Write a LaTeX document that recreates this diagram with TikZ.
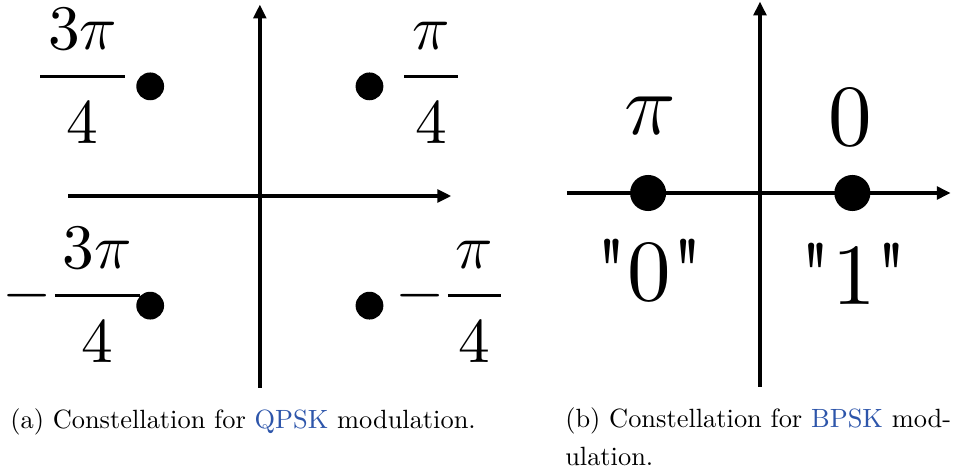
\documentclass[tikz,border=0pt]{standalone}
\usepackage{fix-cm}
\usepackage{fontspec}
\usetikzlibrary{positioning, arrows.meta}
\newfontfamily\figfont{lmroman10-regular}[Extension=.otf]
\definecolor{linkblue}{RGB}{45, 85, 170}
\newcommand{\phasefrac}[1]{$\displaystyle{\hbox{\kern3pt#1\kern3pt}\above1.1pt\hbox{\rule{0pt}{0.9em}\figfont 4}}$}
\newcommand{\negphasefrac}[1]{$\displaystyle-{\hbox{\kern3pt#1\kern3pt}\above1.1pt\hbox{\rule{0pt}{0.9em}\figfont 4}}$}

\begin{document}
\begin{tikzpicture}[
    axis/.style={line width=1.5pt, -{Triangle[length=5.3pt, width=4.8pt]}},
    qdot/.style={circle, fill=black, inner sep=0pt, minimum size=0.37cm},
    bdot/.style={circle, fill=black, inner sep=0pt, minimum size=0.48cm},
    qlabel/.style={inner sep=0pt, anchor=base, font=\figfont\fontsize{24}{28}\selectfont},
    blabel/.style={inner sep=0pt, font=\figfont\fontsize{33}{40}\selectfont},
    caption/.style={inner sep=0pt, anchor=base west, align=left, font=\fontsize{10}{14.4}\selectfont}
  ]
    \def\ax{2.55}
    \useasboundingbox (-3.46,-3.71) rectangle (9.23,2.61);

    % (a) QPSK
    \draw[axis] (-\ax,0) -- (\ax,0);
    \draw[axis] (0,-\ax) -- (0,\ax);

    \node[qdot] (q1) at ( 1.46, 1.46) {};
    \node[qdot] (q2) at (-1.46, 1.46) {};
    \node[qdot] (q3) at (-1.46,-1.46) {};
    \node[qdot] (q4) at ( 1.46,-1.46) {};

    \node[qlabel] (l1) at ( 2.28, 1.38) {\phasefrac{$\pi$}};
    \node[qlabel] (l2) at (-2.36, 1.38) {\phasefrac{\figfont 3$\pi$}};
    \node[qlabel] (l3) at (-2.49,-1.54) {\negphasefrac{\figfont 3$\pi$}};
    \node[qlabel] (l4) at ( 2.53,-1.54) {\negphasefrac{$\pi$}};

    % (b) BPSK
    \draw[axis] (4.09,0.04) -- (9.2,0.04);
    \draw[axis] (6.66,-2.54) -- (6.66,2.59);

    \node[bdot] (b0) at (5.17,0.04) {};
    \node[bdot] (b1) at (7.89,0.04) {};

    \node[blabel] (p0) at (5.2,1.07) {$\pi$};
    \node[blabel] (p1) at (7.86,1.05) {0};
    \node[blabel] (s0) at (5.19,-0.99) {"0"};
    \node[blabel] (s1) at (7.91,-1.04) {"1"};

    \node[caption] (capa) at (-3.33,-3.09)
        {(a) Constellation for \textcolor{linkblue}{QPSK} modulation.};
    \node[caption] (capb) at (4.06,-3.59)
        {(b) Constellation for \textcolor{linkblue}{BPSK} mod-\\ulation.};
\end{tikzpicture}
\end{document}
